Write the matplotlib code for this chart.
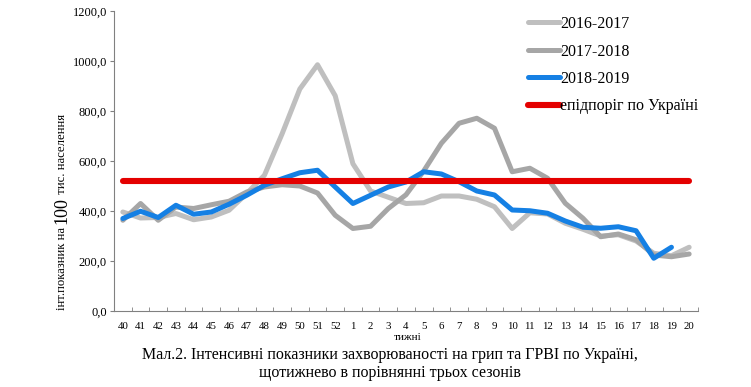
import matplotlib.pyplot as plt
from matplotlib.ticker import FixedLocator, FuncFormatter
import numpy as np

plt.rcParams["font.family"] = ["Liberation Serif", "DejaVu Serif"]

weeks = ["40", "41", "42", "43", "44", "45", "46", "47", "48", "49", "50", "51", "52",
         "1", "2", "3", "4", "5", "6", "7", "8", "9", "10", "11", "12", "13", "14",
         "15", "16", "17", "18", "19", "20"]

s2016 = [396, 372, 374, 390, 365, 376, 403, 470, 543, 709, 888, 985, 861,
         589, 480, 455, 430, 433, 460, 460, 447, 417, 330, 393, 388, 351, 327,
         300, 305, 280, 231, 221, 255]
s2017 = [363, 430, 363, 416, 410, 425, 439, 476, 496, 505, 500, 472, 383,
         330, 339, 410, 465, 560, 671, 751, 771, 731, 557, 571, 531, 431, 371,
         297, 308, 285, 224, 217, 228]
s2018 = [370, 399, 374, 423, 387, 396, 427, 463, 503, 529, 553, 563, 496,
         430, 463, 496, 516, 557, 548, 517, 480, 464, 404, 401, 391, 360, 335,
         331, 337, 321, 211, 255]
threshold = 519

labels = ["2016-2017", "2017-2018", "2018-2019", "епідпоріг по Україні"]
colors = ["#bfbfbf", "#a6a6a6", "#1580e4", "#e40000"]

fig = plt.figure(figsize=(7.51, 3.87), dpi=100)
ax = fig.add_axes([114 / 751, 1 - 311 / 387, 584 / 751, 300 / 387])

x = np.arange(len(weeks))
kw = dict(lw=3.6, solid_capstyle="round", solid_joinstyle="round")
ax.plot(x, s2016, color=colors[0], label=labels[0], **kw)
ax.plot(x, s2017, color=colors[1], label=labels[1], **kw)
ax.plot(x[:len(s2018)], s2018, color=colors[2], label=labels[2], **kw)
ax.plot(x, [threshold] * len(weeks), color=colors[3], label=labels[3],
        lw=4.4, solid_capstyle="round")

ax.set_xlim(-0.5, len(weeks) - 0.5)
ax.set_ylim(0, 1200)
ax.set_yticks(np.arange(0, 1201, 200))
ax.yaxis.set_major_formatter(FuncFormatter(lambda v, p: f"{v:.1f}".replace(".", ",")))
ax.set_xticks(x)
ax.set_xticklabels(weeks)
ax.xaxis.set_minor_locator(FixedLocator(np.arange(len(weeks) + 1) - 0.5))
ax.tick_params(axis="x", which="major", length=0, labelsize=7.8, pad=8)
ax.tick_params(axis="x", which="minor", direction="in", length=3, color="#808080")
ax.tick_params(axis="y", direction="out", length=3, color="#808080", labelsize=9, pad=2)

for side in ["top", "right"]:
    ax.spines[side].set_visible(False)
for side in ["left", "bottom"]:
    ax.spines[side].set_color("#808080")
    ax.spines[side].set_linewidth(0.8)

leg = ax.legend(loc="upper left", bbox_to_anchor=(528 / 751, 1 - 16 / 387),
                bbox_transform=fig.transFigure, frameon=False, fontsize=11.5,
                handlelength=2.0, handletextpad=0.0, labelspacing=0.72,
                borderpad=0, borderaxespad=0)

fig.text(408 / 751, 1 - 338 / 387, "тижні", ha="center", va="center", fontsize=8)

# підпис осі Y: "100" більшим шрифтом
fig.canvas.draw()
r = fig.canvas.get_renderer()
ylab_x = 62 / 751
y0 = 1 - 310 / 387
parts = [("інт.показник на ", 9.2), ("100", 13), (" тис. населення", 9.2)]
for txt, size in parts:
    t = fig.text(ylab_x, y0, txt, rotation=90, ha="center", va="bottom", fontsize=size)
    bb = t.get_window_extent(r)
    y0 = fig.transFigure.inverted().transform((0, bb.y1))[1]

fig.text(390 / 751, 1 - 355 / 387,
         "Мал.2. Інтенсивні показники захворюваності на грип та ГРВІ по Україні,",
         ha="center", va="center", fontsize=11.5)
fig.text(390 / 751, 1 - 373 / 387, "щотижнево в порівнянні трьох сезонів",
         ha="center", va="center", fontsize=11.5)

fig.savefig("out.png", dpi=100)
